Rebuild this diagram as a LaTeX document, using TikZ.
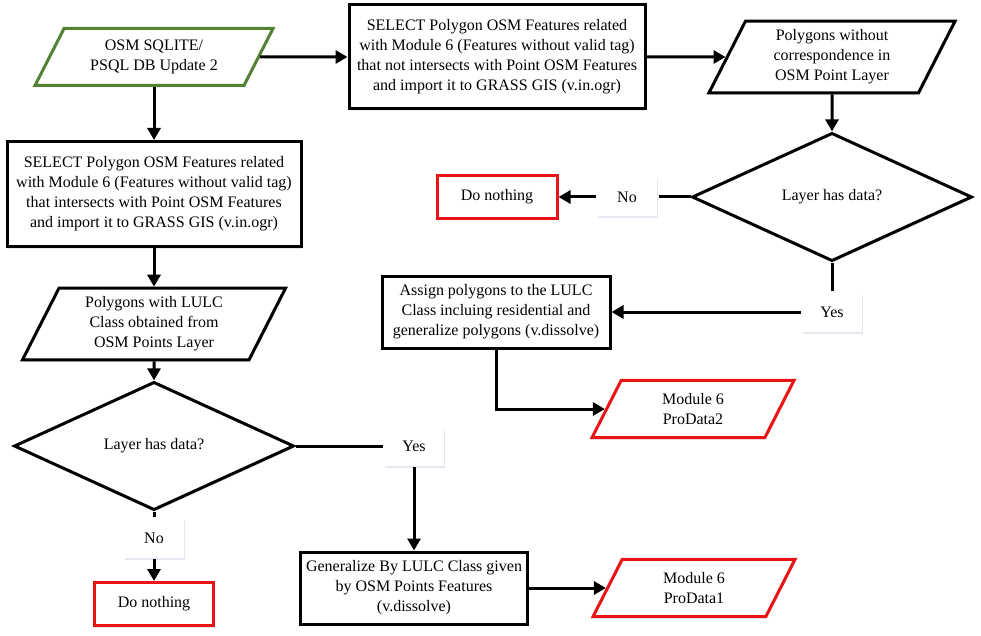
\documentclass[tikz,border=0pt]{standalone}
\usepackage{fontspec}
\setmainfont{Liberation Serif}
\usetikzlibrary{shapes.geometric, positioning, arrows.meta, shadows}
\definecolor{dbgreen}{RGB}{84,130,53}
\definecolor{outred}{RGB}{235,20,20}

\begin{document}
\begin{tikzpicture}[-{Triangle[length=12pt,width=13pt]},line width=3pt,on grid,
        font=\fontsize{16}{20}\selectfont,
        soft shadow/.style={drop shadow={shadow xshift=1pt,shadow yshift=-2pt,opacity=.15,fill=blue!30!gray}},
        proc node/.style={rectangle,draw,fill=white,align=center,soft shadow},
        data node/.style={trapezium,trapezium left angle=63,trapezium right angle=117,trapezium stretches body,inner ysep=11.5pt,draw,fill=white,align=center,soft shadow},
        check node/.style={diamond,draw,fill=white,minimum width=280pt,minimum height=87pt,soft shadow},
        end node/.style={proc node,draw=outred,minimum width=120pt,minimum height=43pt},
        answer node/.style={rectangle,fill=white,minimum width=60pt,minimum height=39pt,soft shadow}]
        \useasboundingbox (0,0) rectangle (981pt,-636pt);

        \node[data node,draw=dbgreen,minimum width=238pt,minimum height=56pt] (src) at (154pt,-57pt) {OSM SQLITE/\\PSQL DB Update 2};
        \node[proc node,minimum width=296pt,minimum height=104pt] (selout) [right=343pt of src] {SELECT Polygon OSM Features related\\with Module 6 (Features without valid tag)\\that not intersects with Point OSM Features\\and import it to GRASS GIS (v.in.ogr)};
        \node[data node,inner ysep=8.5pt,minimum width=246pt,minimum height=70pt] (nocorr) [right=335pt of selout] {Polygons without\\correspondence in\\OSM Point Layer};
        \node[check node] (chkright) [below=140pt of nocorr] {Layer has data?};
        \node[answer node] (noright) [left=205pt of chkright] {No};
        \node[end node] (nothingright) [left=130pt of noright] {Do nothing};
        \node[answer node] (yesright) [below=115pt of chkright] {Yes};
        \node[proc node,minimum width=228pt,minimum height=72pt] (assign) [left=336pt of yesright] {Assign polygons to the LULC\\Class incluing residential and\\generalize polygons (v.dissolve)};
        \node[data node,inner ysep=13pt,draw=outred,minimum width=202pt,minimum height=55pt] (pd2) [below right=97pt and 197pt of assign] {Module 6\\ProData2};

        \node[proc node,minimum width=294pt,minimum height=105pt] (selin) [below=137pt of src] {SELECT Polygon OSM Features related\\with Module 6 (Features without valid tag)\\that intersects with Point OSM Features\\and import it to GRASS GIS (v.in.ogr)};
        \node[data node,inner ysep=8.5pt,minimum width=263pt,minimum height=70pt] (withlulc) [below=130pt of selin] {Polygons with LULC\\Class obtained from\\OSM Points Layer};
        \node[check node] (chkleft) [below=122pt of withlulc] {Layer has data?};
        \node[answer node] (noleft) [below=92pt of chkleft] {No};
        \node[end node,minimum width=119pt] (nothingleft) [below=66pt of noleft] {Do nothing};
        \node[answer node] (yesleft) [right=260pt of chkleft] {Yes};
        \node[proc node,minimum width=227pt,minimum height=72pt] (gen) [below=142pt of yesleft] {Generalize By LULC Class given\\by OSM Points Features\\(v.dissolve)};
        \node[data node,inner ysep=13pt,draw=outred,minimum width=202pt,minimum height=55pt] (pd1) [right=280pt of gen] {Module 6\\ProData1};

        \path[]
        (src) edge node {} (selout)
        (selout) edge node {} (nocorr)
        (nocorr) edge node {} (chkright)
        (chkright) edge[-] node {} (noright)
        (noright) edge node {} (nothingright)
        (chkright) edge[-] node {} (yesright)
        (yesright) edge node {} (assign)
        (src) edge node {} (selin)
        (selin) edge node {} (withlulc)
        (withlulc) edge node {} (chkleft)
        (chkleft) edge[-] node {} (noleft)
        (noleft) edge node {} (nothingleft)
        (chkleft) edge[-] node {} (yesleft)
        (yesleft) edge node {} (gen)
        (gen) edge node {} (pd1);
        \draw (assign) |- (pd2);
    \end{tikzpicture}
\end{document}
